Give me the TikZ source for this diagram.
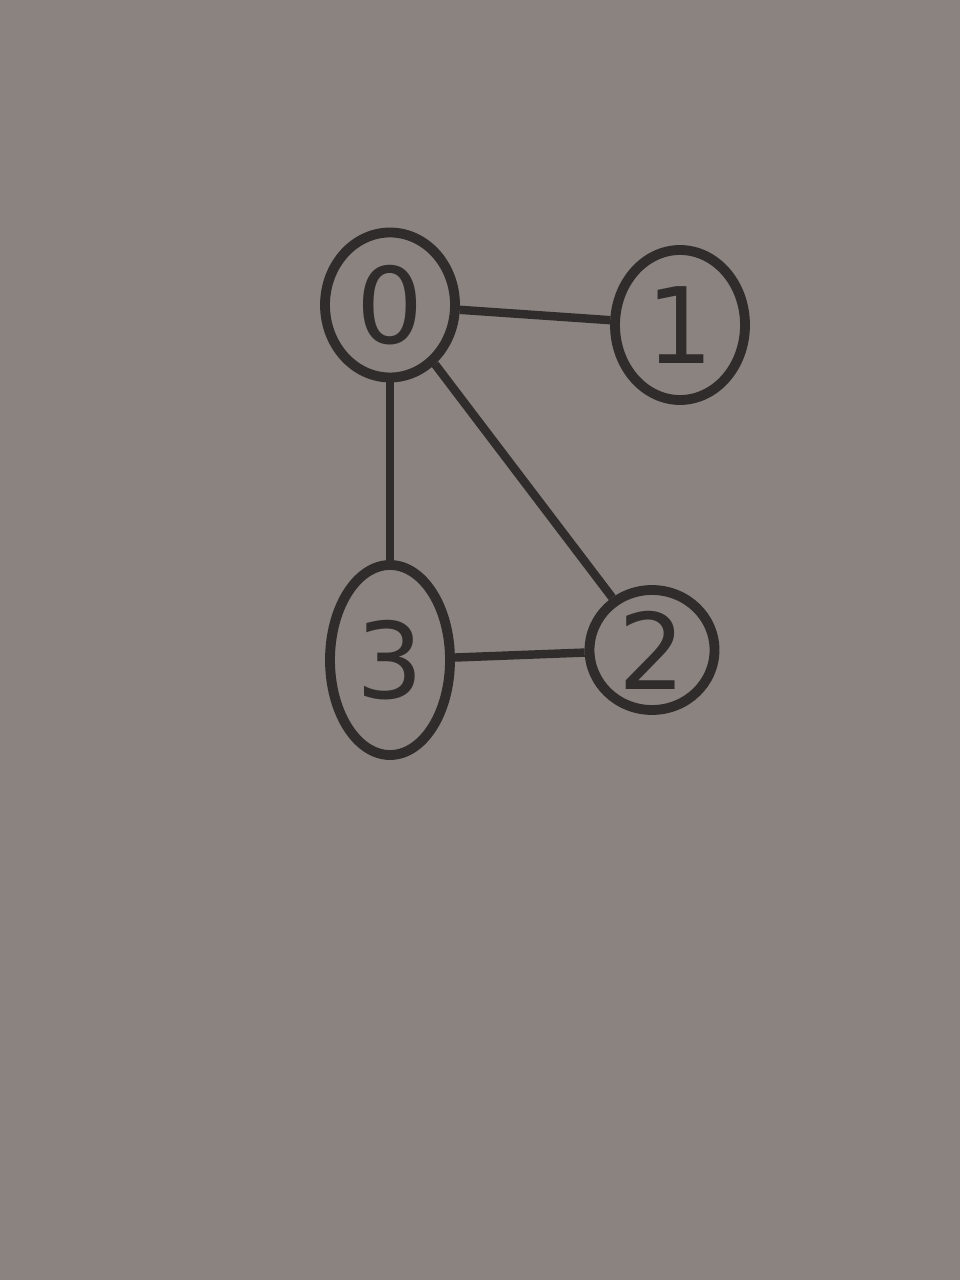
\documentclass[tikz,border=0pt]{standalone}
\usetikzlibrary{shapes.geometric}
\usepackage{fontspec}
\setsansfont{DejaVu Sans}
\definecolor{paper}{RGB}{138,131,127}
\definecolor{pencil}{RGB}{48,44,43}
\begin{document}
\begin{tikzpicture}[font=\sffamily,
  vert/.style={ellipse,draw=pencil,line width=2.8pt,text=pencil,inner sep=0pt,
    font=\fontsize{30}{32}\selectfont\sffamily},
  edge/.style={draw=pencil,line width=2.4pt}]
\fill[paper] (0,0) rectangle (9.6,-12.8);
\useasboundingbox (0,0) rectangle (9.6,-12.8);
\node[vert,minimum width=1.3cm,minimum height=1.45cm] (n0) at (3.9,-3.05) {0};
\node[vert,minimum width=1.3cm,minimum height=1.5cm] (n1) at (6.8,-3.25) {1};
\node[vert,minimum width=1.25cm,minimum height=1.2cm] (n2) at (6.52,-6.5) {2};
\node[vert,minimum width=1.2cm,minimum height=1.9cm] (n3) at (3.9,-6.6) {3};
\foreach \a/\b in {n0/n1,n0/n2,n0/n3,n3/n2} {
\draw[edge] (\a)--(\b);
}
\end{tikzpicture}
\end{document}
